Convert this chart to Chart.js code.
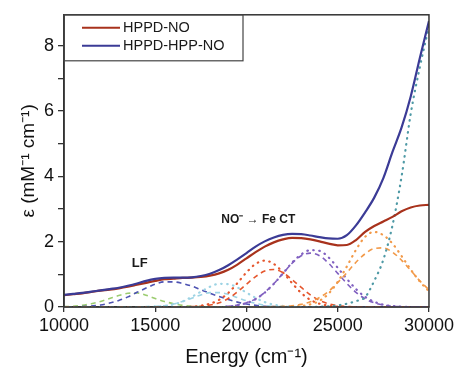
<!DOCTYPE html>
<html>
<head>
<meta charset="utf-8">
<script src="https://cdn.jsdelivr.net/npm/chart.js@4.4.1/dist/chart.umd.min.js"></script>
<style>
  html, body { margin: 0; padding: 0; background: #fff; }
  #wrap { width: 457px; height: 372px; position: relative; }
</style>
</head>
<body>
<div id="wrap"><canvas id="c"></canvas></div>
<script>
// ---- data ----
const energy = [10000,10500,11000,11500,12000,12500,13000,13500,14000,14500,
  15000,15500,16000,16500,17000,17500,18000,18500,19000,19500,
  20000,20500,21000,21500,22000,22500,23000,23500,24000,24500,
  25000,25500,26000,26500,27000,27500,28000,28500,29000,29500,30000];

const hppdNO = [0.36,0.39,0.42,0.46,0.50,0.53,0.57,0.62,0.68,0.74,
  0.80,0.85,0.87,0.89,0.90,0.92,0.96,1.03,1.14,1.30,
  1.49,1.68,1.85,1.98,2.07,2.12,2.11,2.07,2.01,1.94,
  1.89,1.90,2.05,2.30,2.48,2.62,2.76,2.93,3.05,3.11,3.13];

const hppdHppNO = [0.37,0.40,0.43,0.47,0.51,0.55,0.59,0.65,0.72,0.80,
  0.86,0.89,0.90,0.90,0.91,0.95,1.02,1.13,1.28,1.46,
  1.65,1.85,2.01,2.13,2.21,2.24,2.23,2.19,2.14,2.10,
  2.09,2.20,2.50,2.90,3.35,3.95,4.75,5.50,6.45,7.63,8.76];

// Gaussian components (dashed = HPPD-NO fit, dotted = HPPD-HPP-NO fit)
const bandGreenDash = [0.01,0.02,0.05,0.10,0.17,0.26,0.35,0.42,0.43,0.36,
  0.26,0.17,0.10,0.05,0.02,0.01,0,0,0,0,
  0,0,0,0,0,0,0,0,0,0,
  0,0,0,0,0,0,0,0,0,0,0];

const bandBlueDash = [0,0,0.01,0.03,0.06,0.12,0.20,0.31,0.45,0.58,
  0.70,0.77,0.77,0.72,0.64,0.53,0.42,0.32,0.23,0.15,
  0.09,0.05,0.02,0.01,0,0,0,0,0,0,
  0,0,0,0,0,0,0,0,0,0,0];

const bandCyanDot = [0,0,0,0,0,0,0,0,0,0,
  0.01,0.03,0.08,0.17,0.31,0.47,0.62,0.71,0.70,0.60,
  0.44,0.28,0.15,0.07,0.03,0.01,0,0,0,0,
  0,0,0,0,0,0,0,0,0,0,0];

const bandCyanDash = [0,0,0,0,0,0,0,0,0,0.01,
  0.02,0.04,0.09,0.17,0.27,0.37,0.44,0.44,0.39,0.29,
  0.19,0.11,0.05,0.02,0.01,0,0,0,0,0,
  0,0,0,0,0,0,0,0,0,0,0];

const bandRedDot = [0,0,0,0,0,0,0,0,0,0,
  0,0,0,0,0.01,0.04,0.10,0.22,0.43,0.73,
  1.06,1.32,1.42,1.32,1.06,0.73,0.43,0.22,0.10,0.04,
  0.01,0,0,0,0,0,0,0,0,0,0];

const bandRedDash = [0,0,0,0,0,0,0,0,0,0,
  0,0,0,0,0.01,0.02,0.06,0.13,0.26,0.46,
  0.70,0.93,1.10,1.15,1.05,0.84,0.60,0.37,0.20,0.10,
  0.04,0.02,0,0,0,0,0,0,0,0,0];

const bandPurpleDot = [0,0,0,0,0,0,0,0,0,0,
  0,0,0,0,0,0,0,0,0.02,0.05,
  0.12,0.24,0.44,0.71,1.03,1.36,1.61,1.74,1.72,1.52,
  1.20,0.86,0.55,0.31,0.16,0.07,0.03,0.01,0,0,0];

const bandPurpleDash = [0,0,0,0,0,0,0,0,0,0,
  0,0,0,0,0,0,0,0,0.02,0.06,
  0.13,0.25,0.45,0.72,1.03,1.34,1.57,1.65,1.57,1.34,
  1.03,0.72,0.45,0.25,0.13,0.06,0.02,0.01,0,0,0];

const bandOrangeDot = [0,0,0,0,0,0,0,0,0,0,
  0,0,0,0,0,0,0,0,0,0,
  0,0,0,0,0,0.01,0.03,0.08,0.19,0.41,
  0.77,1.24,1.75,2.15,2.30,2.20,1.94,1.56,1.15,0.78,0.48];

const bandOrangeDash = [0,0,0,0,0,0,0,0,0,0,
  0,0,0,0,0,0,0,0,0,0,
  0,0,0,0.01,0.02,0.04,0.08,0.16,0.29,0.48,
  0.75,1.05,1.37,1.63,1.79,1.81,1.68,1.43,1.12,0.80,0.53];

const bandTealDot = [0,0,0,0,0,0,0,0,0,0,
  0,0,0,0,0,0,0,0,0,0,
  0,0,0,0,0,0,0,0,0.01,0.02,
  0.05,0.10,0.18,0.30,0.80,1.45,2.50,4.00,5.92,7.35,8.60];

const xTicksLabelled = [10000, 15000, 20000, 25000, 30000];
const yTicksLabelled = [0, 2, 4, 6, 8];

// ---- build datasets ----
const pts = arr => arr.map((v, i) => ({ x: energy[i], y: v }));

function solid(label, data, color) {
  return { label, data: pts(data), borderColor: color, borderWidth: 2.2,
    pointRadius: 0, cubicInterpolationMode: 'monotone', fill: false };
}
function dashed(label, data, color) {
  return { label, data: pts(data), borderColor: color, borderWidth: 1.6,
    borderDash: [5, 4], pointRadius: 0, cubicInterpolationMode: 'monotone', fill: false };
}
function dotted(label, data, color) {
  return { label, data: pts(data), borderColor: color, borderWidth: 2.2,
    borderDash: [0.5, 5.5], borderCapStyle: 'round', pointRadius: 0,
    cubicInterpolationMode: 'monotone', fill: false };
}

const COL = {
  red: '#a8321c', blue: '#3b3b96', green: '#9ccc70', blueDash: '#4d52b2',
  cyan: '#9dd3e4', redBand: '#e5562d', purple: '#8060c0', orange: '#f29a4a', teal: '#4f9aa6'
};

const datasets = [
  solid('HPPD-HPP-NO', hppdHppNO, COL.blue),
  solid('HPPD-NO', hppdNO, COL.red),
  dotted('teal', bandTealDot, COL.teal),
  dotted('orange dot', bandOrangeDot, COL.orange),
  dashed('orange dash', bandOrangeDash, COL.orange),
  dotted('purple dot', bandPurpleDot, COL.purple),
  dashed('purple dash', bandPurpleDash, COL.purple),
  dotted('red dot', bandRedDot, COL.redBand),
  dashed('red dash', bandRedDash, COL.redBand),
  dotted('cyan dot', bandCyanDot, COL.cyan),
  dashed('cyan dash', bandCyanDash, COL.cyan),
  dashed('blue dash', bandBlueDash, COL.blueDash),
  dashed('green dash', bandGreenDash, COL.green)
];

// ---- plugin: frame, legend box, annotations ----
const extras = {
  id: 'extras',
  afterDraw(chart) {
    const { ctx, chartArea: a, scales } = chart;
    ctx.save();
    // frame
    ctx.strokeStyle = '#333';
    ctx.lineWidth = 1.5;
    ctx.strokeRect(a.left, a.top, a.right - a.left, a.bottom - a.top);
    // legend box
    const bx = a.left, by = a.top, bw = 179, bh = 46;
    ctx.lineWidth = 1.2;
    ctx.strokeStyle = '#444';
    ctx.strokeRect(bx, by, bw, bh);
    const items = [['HPPD-NO', COL.red], ['HPPD-HPP-NO', COL.blue]];
    ctx.font = '14.5px "Liberation Sans", Arial, sans-serif';
    ctx.textBaseline = 'middle';
    items.forEach((it, i) => {
      const yy = by + 13 + i * 18;
      ctx.strokeStyle = it[1];
      ctx.lineWidth = 2;
      ctx.beginPath();
      ctx.moveTo(bx + 18, yy);
      ctx.lineTo(bx + 56, yy);
      ctx.stroke();
      ctx.fillStyle = '#1a1a1a';
      ctx.textAlign = 'left';
      ctx.fillText(it[0], bx + 59, yy);
    });
    // annotations
    ctx.fillStyle = '#1a1a1a';
    ctx.textAlign = 'center';
    ctx.font = 'bold 13px "Liberation Sans", Arial, sans-serif';
    ctx.fillText('LF', scales.x.getPixelForValue(14150), scales.y.getPixelForValue(1.33));
    ctx.font = 'bold 12px "Liberation Sans", Arial, sans-serif';
    ctx.fillText('NO\u207B \u2192 Fe CT', scales.x.getPixelForValue(20650), scales.y.getPixelForValue(2.67));
    ctx.restore();
  }
};

new Chart(document.getElementById('c'), {
  type: 'line',
  data: { datasets },
  options: {
    responsive: true,
    maintainAspectRatio: false,
    animation: false,
    layout: { padding: { top: 12, right: 27, left: 0, bottom: 0 } },
    plugins: { legend: { display: false }, tooltip: { enabled: false } },
    scales: {
      x: {
        type: 'linear', min: 10000, max: 30000,
        afterFit: s => { s.height = 65; },
        ticks: {
          stepSize: 2500, color: '#111', padding: 3, maxRotation: 0,
          font: { size: 18, family: '"Liberation Sans", Arial, sans-serif' },
          callback: v => xTicksLabelled.includes(v) ? String(v) : ''
        },
        grid: { drawOnChartArea: false, drawTicks: true, tickLength: 5, color: '#333', lineWidth: 1.3 },
        border: { display: true, color: '#333', width: 1.5 },
        title: {
          display: true, text: 'Energy (cm\u207B\u00B9)', color: '#111',
          font: { size: 20, family: '"Liberation Sans", Arial, sans-serif' },
          padding: { top: 0, bottom: 3 }
        }
      },
      y: {
        min: 0, max: 8.95,
        afterFit: s => { s.width = 64; },
        afterBuildTicks: s => { s.ticks = s.ticks.filter(t => Number.isInteger(t.value)); },
        ticks: {
          stepSize: 1, color: '#111', padding: 4,
          font: { size: 18, family: '"Liberation Sans", Arial, sans-serif' },
          callback: v => yTicksLabelled.includes(v) ? String(v) : ''
        },
        grid: { drawOnChartArea: false, drawTicks: true, tickLength: 6, color: '#333', lineWidth: 1.3 },
        border: { display: true, color: '#333', width: 1.5 },
        title: {
          display: true, text: '\u03B5 (mM\u207B\u00B9 cm\u207B\u00B9)', color: '#111',
          font: { size: 19, family: '"Liberation Sans", Arial, sans-serif' },
          padding: { top: 17, bottom: 0 }
        }
      }
    }
  },
  plugins: [extras]
});
</script>
</body>
</html>
